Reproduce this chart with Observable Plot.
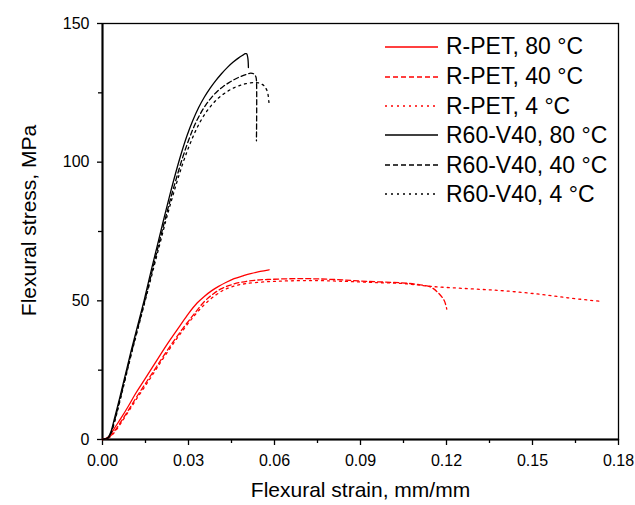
<!DOCTYPE html>
<html><head><meta charset="utf-8">
<script src="https://cdn.jsdelivr.net/npm/d3@7"></script>
<script src="https://cdn.jsdelivr.net/npm/@observablehq/plot@0.6"></script>
<style>
body{margin:0;background:#fff;font-family:"Liberation Sans",Arial,sans-serif;}
#wrap{position:relative;width:635px;height:505px;}
.lg{position:absolute;display:flex;align-items:center;font-size:23px;color:#000;white-space:nowrap;}
.lg svg{margin-right:8px;}
</style></head><body><div id="wrap"></div>
<script>
// ---- data (strain mm/mm, stress MPa) ----
const seriesNames = ["R-PET, 80 °C","R-PET, 40 °C","R-PET, 4 °C","R60-V40, 80 °C","R60-V40, 40 °C","R60-V40, 4 °C"];
const seriesColors = ["#ff0000","#ff0000","#ff0000","#000000","#000000","#000000"];
const seriesDashes = [null,"5,3","2,4",null,"5,3","2,4"];

const rpet80 = [[0,0],[0.001,0.3],[0.002,0.9],[0.003,2.2],[0.0045,4.6],[0.0064,7.6],[0.009,12],[0.0115,16.5],[0.0145,21.3],[0.018,27],[0.0227,34.6],[0.027,41],[0.030,45.4],[0.033,49.2],[0.0355,51.6],[0.038,53.6],[0.0405,55.2],[0.043,56.6],[0.0459,58],[0.049,59],[0.0517,59.8],[0.055,60.6],[0.0581,61.2]];
const rpet40 = [[0,0],[0.001,0.2],[0.002,0.6],[0.003,1.5],[0.0045,3.5],[0.0065,6.5],[0.009,10.5],[0.012,15.5],[0.0155,21],[0.019,26.5],[0.0235,33.5],[0.028,40],[0.032,45.3],[0.0354,49.6],[0.0385,52.4],[0.0413,54.3],[0.045,55.8],[0.0483,56.7],[0.053,57.4],[0.0576,57.7],[0.0692,58],[0.0808,57.7],[0.0925,57],[0.1041,56.5],[0.110,55.9],[0.1146,54.9],[0.1169,53.1],[0.1192,50.1],[0.1201,47]];
const rpet4 = [[0,0],[0.001,0.2],[0.002,0.5],[0.003,1.2],[0.0045,3],[0.0065,6],[0.009,10],[0.012,14.8],[0.0155,20.2],[0.019,25.8],[0.0235,32.8],[0.028,39.3],[0.032,44.6],[0.0354,48.5],[0.039,51.7],[0.0425,54],[0.0459,55.3],[0.050,56.2],[0.0576,56.9],[0.065,57.2],[0.075,57.3],[0.085,57],[0.095,56.6],[0.1052,56.2],[0.1146,55.2],[0.1273,54.4],[0.139,53.7],[0.1506,52.6],[0.1622,51.1],[0.1738,49.8]];
const r60v80 = [[0,0],[0.001,0.2],[0.002,0.8],[0.003,3],[0.004,6.9],[0.006,15],[0.008,23.5],[0.010,32],[0.0125,42],[0.0145,50.1],[0.017,61],[0.0195,71.5],[0.0215,80],[0.0235,88.2],[0.0255,96],[0.0275,103.2],[0.0295,109.6],[0.0315,115],[0.0335,119.6],[0.0355,123.4],[0.0375,126.6],[0.0395,129.4],[0.0415,131.9],[0.0435,134.1],[0.0455,136],[0.0475,137.6],[0.049,138.6],[0.0498,139.1],[0.0503,139.1],[0.0507,137.5],[0.0509,134.1]];
const r60v40 = [[0,0],[0.001,0.2],[0.002,0.6],[0.003,2.5],[0.004,6],[0.006,14],[0.008,22.5],[0.010,31],[0.0125,41],[0.015,51],[0.0175,61.5],[0.020,72],[0.022,80],[0.024,87.8],[0.026,95],[0.028,101.8],[0.030,107.8],[0.032,113],[0.034,117.2],[0.036,120.6],[0.038,123.3],[0.040,125.5],[0.042,127.2],[0.044,128.6],[0.046,129.8],[0.048,130.8],[0.050,131.6],[0.0517,132.1],[0.0528,131.8],[0.0535,130.8],[0.0537,129.5],[0.0537,107.7]];
const r60v4 = [[0,0],[0.001,0.2],[0.002,0.5],[0.003,2.2],[0.004,5.5],[0.006,13.5],[0.008,22],[0.010,30.5],[0.0125,40.5],[0.015,50.5],[0.0175,60.5],[0.020,70.5],[0.022,78.5],[0.024,86],[0.026,93],[0.028,99.5],[0.030,105.2],[0.032,110.2],[0.034,114.4],[0.036,117.8],[0.038,120.5],[0.040,122.7],[0.042,124.4],[0.044,125.8],[0.046,126.9],[0.048,127.7],[0.050,128.3],[0.0529,128.7],[0.055,128.4],[0.0564,127.5],[0.0575,125.5],[0.0581,121]];
const seriesData = [rpet80, rpet40, rpet4, r60v80, r60v40, r60v4];

const xMajor = [0,0.03,0.06,0.09,0.12,0.15,0.18];
const xMinor = [0.015,0.045,0.075,0.105,0.135,0.165];
const yMajor = [0,50,100,150];
const yMinor = [25,75,125];
const xTitle = "Flexural strain, mm/mm";
const yTitle = "Flexural stress, MPa";

const table = seriesData.flatMap((arr, i) => arr.map(([strain, stress]) => ({series: seriesNames[i], strain, stress})));

const lineMarks = seriesNames.map((name, i) =>
  Plot.line(table.filter(d => d.series === name), {
    x: "strain", y: "stress", stroke: seriesColors[i],
    strokeDasharray: seriesDashes[i] ?? undefined, strokeWidth: 1.3, curve: "catmull-rom"
  })
);

const chart = Plot.plot({
  width: 635, height: 505,
  marginLeft: 102, marginRight: 17, marginTop: 23, marginBottom: 66,
  style: {fontFamily: "Liberation Sans, Arial, sans-serif", background: "#fff", color: "#000"},
  x: {domain: [0, 0.18]},
  y: {domain: [0, 150]},
  marks: [
    Plot.frame({stroke: "#000", strokeWidth: 1.3}),
    Plot.axisX(xMajor, {tickSize: 6, tickPadding: 9, tickFormat: d => d.toFixed(2), fontSize: 16, label: null, strokeWidth: 1.3}),
    Plot.axisX(xMinor, {tickSize: 4, tickFormat: () => "", label: null, strokeWidth: 1.3}),
    Plot.axisY(yMajor, {tickSize: 5, tickPadding: 8, fontSize: 16, label: null, strokeWidth: 1.3}),
    Plot.axisY(yMinor, {tickSize: 4, tickFormat: () => "", label: null, strokeWidth: 1.3}),
    Plot.ruleX([0], {stroke: "#000", strokeWidth: 2}),
    Plot.ruleY([0], {stroke: "#000", strokeWidth: 2}),
    ...lineMarks,
    Plot.text([xTitle], {text: d => d, frameAnchor: "bottom", dy: 57, fontSize: 21}),
    Plot.text([yTitle], {text: d => d, frameAnchor: "left", textAnchor: "middle", dx: -73, dy: -11, rotate: -90, fontSize: 21})
  ]
});
const wrap = document.getElementById("wrap");
wrap.appendChild(chart);

// legend overlay
const legendRowY = [46.7, 76.7, 106, 135.3, 165, 194.3];
seriesNames.forEach((name, i) => {
  const row = document.createElement("div");
  row.className = "lg";
  row.style.left = "385px";
  row.style.top = (legendRowY[i] - 14) + "px";
  row.style.height = "28px";
  const dash = seriesDashes[i] ? ` stroke-dasharray="${seriesDashes[i]}"` : "";
  row.innerHTML = `<svg width="53" height="4"><line x1="0" y1="2" x2="53" y2="2" stroke="${seriesColors[i]}" stroke-width="1.3"${dash}/></svg><span>${name}</span>`;
  wrap.appendChild(row);
});
</script>
</body></html>
